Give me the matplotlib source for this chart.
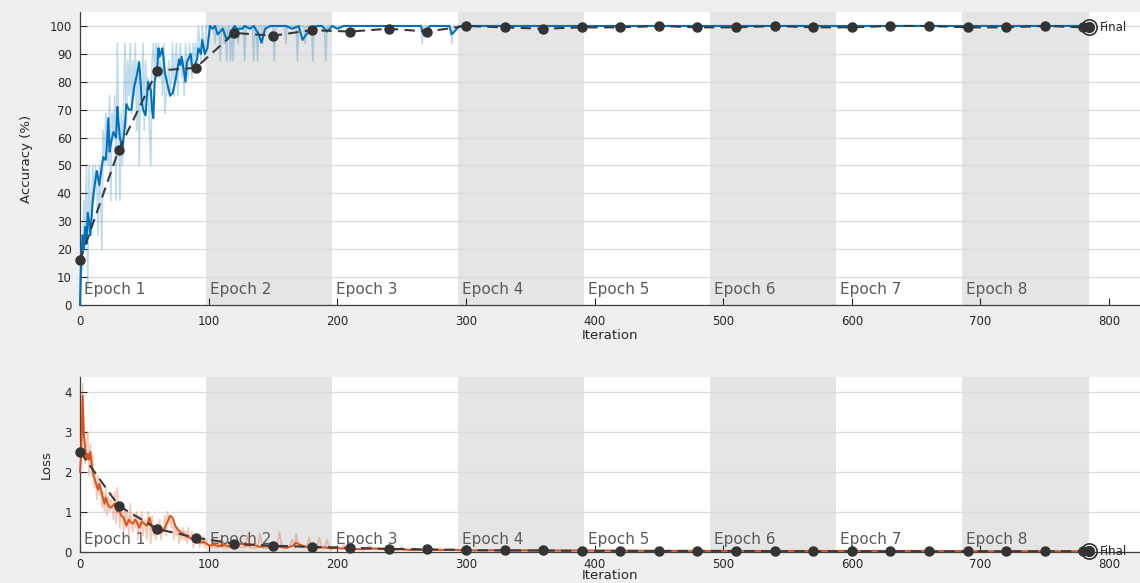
import numpy as np
from matplotlib import pyplot as plt

plt.rcParams['font.family'] = ['DejaVu Sans']

# training run: 8 epochs, 98 iterations each
iters_per_epoch = 98
n_epochs = 8
final_iter = 784

# raw training accuracy, one value per iteration for epoch 1
raw_acc_early = [0,
                 25, 12.5, 37.5, 25, 50, 6.25, 50, 25, 37.5, 50,
                 37.5, 50, 43.75, 25, 50, 37.5, 20, 62.5, 50, 68.75,
                 56.25, 50, 75, 37.5, 68.75, 62.5, 75, 37.5, 93.75, 62.5,
                 37.5, 68.75, 50, 75, 93.75, 62.5, 87.5, 75, 93.75, 68.75,
                 87.5, 75, 93.75, 62.5, 87.5, 50, 81.25, 75, 93.75, 62.5,
                 87.5, 75, 81.25, 62.5, 50, 87.5, 93.75, 81.25, 93.75, 87.5,
                 93.75, 81.25, 87.5, 75, 93.75, 68.75, 75, 81.25, 87.5, 75,
                 81.25, 93.75, 75, 87.5, 93.75, 75, 87.5, 93.75, 81.25, 87.5,
                 75, 93.75, 87.5, 81.25, 93.75, 87.5, 81.25, 93.75, 87.5, 93.75,
                 87.5, 100, 93.75, 87.5, 100, 93.75, 87.5, 100, 100, 100]
# later iterations sit at 100 apart from these drops
acc_dip_iter = [105, 109, 112, 114, 117, 119, 123, 128, 135, 138, 142, 151, 160, 169, 175, 181, 191, 266, 289]
acc_dip_val = [93.75, 87.5, 93.75, 87.5, 87.5, 87.5, 93.75, 87.5, 87.5, 87.5, 93.75, 87.5, 93.75, 87.5,
               93.75, 87.5, 87.5, 93.75, 93.75]

# smoothed training accuracy
smooth_acc_iter = [0, 1, 2, 3, 4, 5, 6, 7, 8, 10, 12, 13, 15, 17, 18, 20, 21, 22, 23, 24,
                   26, 28, 29, 30, 31, 33, 35, 36, 38, 40, 42, 44, 46, 47, 48, 49, 51, 52, 53, 55,
                   56, 57, 58, 60, 61, 62, 64, 65, 66, 68, 70, 72, 74, 77, 78, 79, 82, 83, 86, 87,
                   88, 91, 92, 94, 95, 97, 99, 101, 103, 105, 107, 109, 111, 114, 117, 120, 122, 126, 128, 132,
                   135, 139, 141, 144, 148, 155, 160, 165, 170, 173, 176, 180, 184, 188, 192, 196, 200, 205, 230, 250,
                   265, 267, 272, 287, 289, 295, 350, 400, 500, 600, 700, 784]
smooth_acc = [0, 18, 25, 20, 28, 22, 33, 30, 25, 38, 45, 48, 43, 50, 53, 52, 58, 67, 55, 58,
              62, 60, 71, 65, 60, 56, 65, 72, 70, 70, 78, 82, 87, 80, 73, 70, 68, 75, 80, 77,
              70, 67, 80, 85, 92, 89, 92, 88, 83, 79, 75, 76, 80, 88, 86, 89, 80, 87, 90, 86,
              85, 88, 92, 90, 95, 90, 92, 100, 99, 100, 97, 98, 99, 95, 97, 100, 99, 99, 100, 99,
              100, 97, 94, 99, 100, 100, 100, 99, 100, 95, 97, 99, 100, 100, 98, 100, 99, 100, 100, 100,
              100, 97, 100, 100, 97, 100, 100, 100, 100, 100, 100, 100]

# validation accuracy every 30 iterations, plus the final value
val_iter = [0, 30, 60, 90, 120, 150, 180, 210, 240, 270, 300, 330, 360, 390, 420, 450, 480, 510,
            540, 570, 600, 630, 660, 690, 720, 750, 780, 784]
val_acc = [16, 55.5, 84, 85, 97.5, 96.5, 98.5, 98, 99, 98, 100, 99.5, 99, 99.5, 99.5, 100, 99.5, 99.5,
           100, 99.5, 99.5, 100, 100, 99.5, 99.5, 100, 99.5, 99.5]

# raw training loss, one value per iteration for epoch 1
raw_loss_early = [2.0,
                  2.6, 4.2, 3.1, 2.2, 2.8, 3.0, 1.9, 2.7, 2.1, 2.4,
                  1.6, 2.0, 1.3, 1.9, 1.4, 1.7, 1.1, 1.5, 1.0, 1.6,
                  0.9, 1.4, 1.0, 1.3, 1.2, 0.8, 1.5, 0.7, 1.6, 1.0,
                  0.6, 1.2, 0.9, 0.5, 1.1, 0.6, 1.0, 0.4, 1.2, 0.7,
                  0.5, 0.9, 0.6, 1.0, 0.3, 0.9, 0.5, 1.0, 0.4, 0.8,
                  0.6, 0.3, 1.0, 0.7, 0.2, 0.9, 0.4, 0.6, 0.3, 0.7,
                  0.5, 0.8, 0.3, 0.6, 0.5, 0.9, 0.4, 1.0, 0.7, 0.9,
                  0.6, 0.8, 0.3, 0.7, 0.4, 0.6, 0.2, 0.5, 0.3, 0.6,
                  0.3, 0.5, 0.2, 0.6, 0.4, 0.3, 0.5, 0.1, 0.4, 0.3,
                  0.2, 0.4, 0.1, 0.3, 0.2, 0.4, 0.1, 0.3, 0.2, 0.15]
raw_loss_late_iter = [101, 103, 104, 105, 109, 110, 111, 116, 118, 120, 122, 123, 124, 128, 130, 132,
                      138, 140, 142, 150, 153, 155, 157, 162, 165, 167, 168, 170, 176, 178, 180,
                      184, 186, 188, 190, 192, 194, 200, 204, 205, 206, 220, 225, 230, 248, 250, 252,
                      278, 280, 282, 320, 400, 500, 600, 700, 784]
raw_loss_late = [0.1, 0.15, 0.3, 0.1, 0.12, 0.35, 0.1, 0.1, 0.25, 0.12, 0.1, 0.3, 0.12, 0.1, 0.4, 0.1,
                 0.1, 0.45, 0.08, 0.1, 0.08, 0.5, 0.1, 0.08, 0.3, 0.1, 0.45, 0.12, 0.1, 0.35, 0.1,
                 0.08, 0.35, 0.1, 0.08, 0.3, 0.08, 0.08, 0.06, 0.2, 0.06, 0.06, 0.15, 0.05, 0.05, 0.12, 0.04,
                 0.04, 0.1, 0.04, 0.03, 0.03, 0.02, 0.02, 0.01, 0.01]

# smoothed training loss
smooth_loss_iter = [0, 1, 2, 3, 4, 5, 6, 7, 8, 9, 10, 12, 14, 15, 17, 19, 20, 22, 24, 27,
                    29, 30, 32, 34, 36, 38, 39, 41, 43, 44, 46, 48, 50, 52, 54, 56, 57, 59, 62, 64,
                    66, 68, 70, 72, 74, 76, 78, 80, 83, 85, 88, 90, 93, 96, 98, 101, 104, 108, 112, 116,
                    120, 125, 130, 135, 140, 145, 150, 155, 160, 165, 168, 172, 176, 180, 185, 190, 195, 200, 210, 220,
                    230, 240, 250, 260, 270, 280, 290, 300, 330, 360, 400, 450, 500, 550, 600, 650, 700, 784]
smooth_loss = [2.0, 2.5, 3.9, 2.9, 2.6, 2.3, 2.45, 2.3, 2.5, 2.2, 1.95, 1.75, 1.55, 1.7, 1.45, 1.2, 1.35, 1.15, 1.1, 1.2,
               1.0, 1.05, 0.9, 0.85, 0.65, 0.8, 0.75, 0.7, 0.8, 0.75, 0.6, 0.75, 0.7, 0.65, 0.85, 0.6, 0.55, 0.5, 0.55, 0.5,
               0.6, 0.75, 0.9, 0.85, 0.65, 0.55, 0.5, 0.45, 0.38, 0.35, 0.3, 0.28, 0.22, 0.25, 0.2, 0.15, 0.18, 0.14, 0.17, 0.13,
               0.16, 0.2, 0.15, 0.17, 0.12, 0.14, 0.1, 0.12, 0.1, 0.14, 0.22, 0.16, 0.12, 0.14, 0.1, 0.11, 0.08, 0.09, 0.07, 0.06,
               0.08, 0.05, 0.06, 0.04, 0.05, 0.04, 0.05, 0.03, 0.04, 0.03, 0.03, 0.02, 0.02, 0.02, 0.02, 0.02, 0.01, 0.01]

val_loss = [2.5, 1.15, 0.57, 0.35, 0.2, 0.15, 0.12, 0.1, 0.07, 0.06, 0.04, 0.03, 0.03, 0.02, 0.02, 0.02, 0.02, 0.02,
            0.01, 0.01, 0.01, 0.01, 0.01, 0.01, 0.01, 0.01, 0.01, 0.01]


def raw_with_dips(early, dip_iter, dip_val, base, last_iter):
    # epoch-1 values per iteration, then flat base with single-iteration drops
    xs = list(range(len(early)))
    ys = list(early)
    for d, v in zip(dip_iter, dip_val):
        xs += [d - 1, d, d + 1]
        ys += [base, v, base]
    xs.append(last_iter)
    ys.append(base)
    return xs, ys


BLUE = '#0072BD'
ORANGE = '#D95319'
VAL = '#3a3a3a'
TXT = '#262626'

fig = plt.figure(figsize=(11.4, 5.83), dpi=100, facecolor='#efefef')
ax_acc = fig.add_axes([0.0702, 0.4768, 0.9298, 0.5026])
ax_loss = fig.add_axes([0.0702, 0.0537, 0.9298, 0.2997])

x_max = 824

for ax, ymax, epoch_y, xpad, xlab_y in [(ax_acc, 105, 3.8, 7, -0.082), (ax_loss, 4.37, 0.2, 4.5, -0.1)]:
    ax.set_facecolor('white')
    for e in range(n_epochs):
        start = e * iters_per_epoch
        if e % 2 == 1:
            ax.axvspan(start, start + iters_per_epoch, color='#e5e5e5', lw=0, zorder=0)
        ax.text(start + 3, epoch_y, 'Epoch %d' % (e + 1), fontsize=11, color='#5a5a5a',
                ha='left', va='baseline', zorder=1)
    ax.set_xlim(0, x_max)
    ax.set_ylim(0, ymax)
    ax.set_xticks(np.arange(0, 801, 100))
    ax.grid(axis='y', color='#dcdcdc', lw=0.9, zorder=0.5)
    ax.set_axisbelow(True)
    ax.tick_params(direction='in', length=5, width=0.8, colors=TXT, labelsize=8.5)
    ax.tick_params(axis='x', pad=xpad)
    ax.tick_params(axis='y', pad=6)
    for side in ['top', 'right']:
        ax.spines[side].set_visible(False)
    for side in ['left', 'bottom']:
        ax.spines[side].set_color('#404040')
        ax.spines[side].set_linewidth(0.9)
    ax.set_xlabel('Iteration', fontsize=9.5, color=TXT)
    ax.xaxis.set_label_coords(0.5, xlab_y)

ax_acc.set_yticks(np.arange(0, 101, 10))
ax_acc.set_ylabel('Accuracy (%)', fontsize=9.5, color=TXT)
ax_acc.yaxis.set_label_coords(-0.044, 0.5)
ax_loss.set_yticks(np.arange(0, 5, 1))
ax_loss.set_ylabel('Loss', fontsize=9.5, color=TXT)
ax_loss.yaxis.set_label_coords(-0.026, 0.5)

# accuracy panel
rx, ry = raw_with_dips(raw_acc_early, acc_dip_iter, acc_dip_val, 100, final_iter)
ax_acc.plot(rx, ry, color=BLUE, alpha=0.25, lw=1.2, zorder=2, clip_on=False)
ax_acc.plot(smooth_acc_iter, smooth_acc, color=BLUE, lw=1.5, zorder=3, clip_on=False)
ax_acc.plot(val_iter, val_acc, color=VAL, ls=(0, (5, 3)), lw=1.5, marker='o', ms=6.5,
            mfc='#333333', mec='#333333', zorder=4, clip_on=False)
ax_acc.plot(val_iter[-1], val_acc[-1], 'o', ms=11, mfc='none', mec='#333333', mew=1.2, zorder=5, clip_on=False)
ax_acc.plot(val_iter[-1], val_acc[-1], 'o', ms=7, color='#333333', zorder=5, clip_on=False)
ax_acc.text(val_iter[-1] + 9, val_acc[-1], 'Final', fontsize=8.5, color=TXT, va='center', ha='left')

# loss panel
lx = list(range(len(raw_loss_early))) + raw_loss_late_iter
ly = raw_loss_early + raw_loss_late
ax_loss.plot(lx, ly, color=ORANGE, alpha=0.3, lw=1.2, zorder=2)
ax_loss.plot(smooth_loss_iter, smooth_loss, color=ORANGE, lw=1.4, zorder=3, clip_on=False)
ax_loss.plot(val_iter, val_loss, color=VAL, ls=(0, (5, 3)), lw=1.5, marker='o', ms=6.5,
             mfc='#333333', mec='#333333', zorder=4, clip_on=False)
ax_loss.plot(val_iter[-1], val_loss[-1], 'o', ms=11, mfc='none', mec='#333333', mew=1.2, zorder=5, clip_on=False)
ax_loss.plot(val_iter[-1], val_loss[-1], 'o', ms=7, color='#333333', zorder=5, clip_on=False)
ax_loss.text(val_iter[-1] + 9, val_loss[-1], 'Final', fontsize=8.5, color=TXT, va='center', ha='left')

fig.savefig('out.png', dpi=100, facecolor=fig.get_facecolor())
